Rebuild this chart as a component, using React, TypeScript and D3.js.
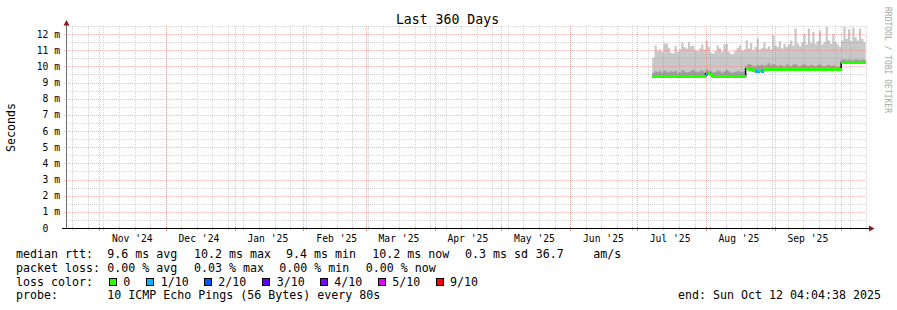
import React from "react";
import * as d3 from "d3";

const W = 897;
const H = 310;

const startTime = new Date(Date.UTC(2024, 9, 17, 4, 4, 38));
const endTime = new Date(Date.UTC(2025, 9, 12, 4, 4, 38));

const yTickValues = [0, 1, 2, 3, 4, 5, 6, 7, 8, 9, 10, 11, 12];
const yTickLabels = ["0", "1 m", "2 m", "3 m", "4 m", "5 m", "6 m", "7 m", "8 m", "9 m", "10 m", "11 m", "12 m"];

const xTickDates = [
  "2024-11-16", "2024-12-16", "2025-01-16", "2025-02-16", "2025-03-16", "2025-04-16",
  "2025-05-16", "2025-06-16", "2025-07-16", "2025-08-16", "2025-09-16",
];
const xTickLabels = ["Nov '24", "Dec '24", "Jan '25", "Feb '25", "Mar '25", "Apr '25", "May '25", "Jun '25", "Jul '25", "Aug '25", "Sep '25"];

// daily series starting 2025-07-08 (values in ms)
const seriesStart = "2025-07-08";
const medianRtt = [
  9.37, 9.37, 9.37, 9.37, 9.37, 9.37, 9.37, 9.37, 9.37, 9.37, 9.37, 9.37,
  9.37, 9.37, 9.37, 9.37, 9.37, 9.37, 9.37, 9.37, 9.37, 9.37, 9.37, 9.37,
  9.52, 9.55, 9.52, 9.38, 9.38, 9.38, 9.38, 9.38, 9.38, 9.38, 9.38, 9.38,
  9.38, 9.38, 9.38, 9.38, 9.38, 9.38,
  9.85, 9.83, 9.78, 9.76, 9.68, 9.66, 9.72, 9.68, 9.79, 9.79, 9.79, 9.79,
  9.79, 9.79, 9.79, 9.79, 9.79, 9.79, 9.79, 9.79, 9.79, 9.79, 9.79, 9.79,
  9.79, 9.79, 9.79, 9.79, 9.79, 9.79, 9.79, 9.79, 9.79, 9.79, 9.79, 9.79,
  9.79, 9.79, 9.79, 9.79, 9.79, 9.79, 9.79,
  10.24, 10.24, 10.24, 10.24, 10.24, 10.24, 10.24, 10.24, 10.24, 10.24, 10.24,
];
const lossTenths = [
  0, 0, 0, 0, 0, 0, 0, 0, 0, 0, 0, 0,
  0, 0, 0, 0, 0, 0, 0, 0, 0, 0, 0, 0,
  1, 0, 0, 0, 0, 0, 0, 0, 0, 0, 0, 0,
  0, 0, 0, 0, 0, 0,
  0, 0, 0, 0, 1, 1, 0, 1, 0, 0, 0, 0,
  0, 0, 0, 0, 0, 0, 0, 0, 0, 0, 0, 0,
  0, 0, 0, 0, 0, 0, 0, 0, 0, 0, 0, 0,
  0, 0, 0, 0, 0, 0, 0,
  0, 0, 0, 0, 0, 0, 0, 0, 0, 0, 0,
];
const smokeMax = [
  10.55, 11.30, 10.95, 11.05, 10.90, 11.42, 11.40, 11.15, 10.85, 10.80, 11.25, 10.90,
  11.05, 11.48, 11.20, 11.10, 11.50, 11.25, 11.30, 11.00, 10.95, 11.10, 11.35, 11.05,
  11.57, 11.20, 10.85, 10.80, 10.95, 11.30, 11.10, 10.90, 11.35, 11.40, 10.90, 10.75,
  10.80, 11.00, 11.15, 11.30, 10.95, 11.05,
  11.62, 11.10, 11.45, 11.00, 11.20, 11.72, 11.05, 11.15, 11.50, 11.10, 11.25, 11.05,
  11.93, 11.30, 11.20, 11.55, 11.10, 11.40, 11.20, 11.35, 11.60, 11.30, 12.34, 11.40,
  11.25, 11.50, 12.00, 11.35, 12.34, 11.45, 12.13, 11.40, 11.55, 12.20, 11.35, 11.50,
  12.45, 11.60, 11.40, 12.00, 11.50, 11.35, 11.20,
  11.60, 12.45, 11.70, 12.30, 11.55, 12.40, 11.80, 11.60, 12.35, 11.70, 11.50,
];
const smokeP9 = [
  9.60, 9.70, 9.65, 9.72, 9.60, 9.75, 9.68, 9.62, 9.70, 9.66, 9.74, 9.60,
  9.64, 9.78, 9.70, 9.62, 9.66, 9.72, 9.80, 9.68, 9.64, 9.70, 9.76, 9.66,
  9.80, 9.75, 9.70, 9.62, 9.66, 9.74, 9.70, 9.60, 9.68, 9.78, 9.70, 9.62,
  9.60, 9.66, 9.72, 9.68, 9.64, 9.70,
  10.05, 10.15, 10.10, 10.02, 10.00, 10.08, 10.05, 10.12, 10.02, 10.10, 10.20, 10.05,
  10.15, 10.08, 10.02, 10.10, 10.05, 10.00, 10.12, 10.06, 10.02, 10.10, 10.15, 10.04,
  10.00, 10.08, 10.12, 10.05, 10.02, 10.10, 10.06, 10.00, 10.08, 10.12, 10.04, 10.00,
  10.06, 10.10, 10.02, 10.05, 10.00, 9.98, 10.02,
  10.40, 10.45, 10.38, 10.42, 10.40, 10.36, 10.44, 10.40, 10.38, 10.42, 10.40,
];

const lossLabels = ["0", "1/10", "2/10", "3/10", "4/10", "5/10", "9/10"];
const lossColors = ["#26ff00", "#00b8ff", "#0059ff", "#5e00ff", "#7e00ff", "#dd00ff", "#ff0000"];

const statsRtt = ["9.6 ms avg", "10.2 ms max", "9.4 ms min", "10.2 ms now", "0.3 ms sd", "36.7", "am/s"];
const statsLoss = ["0.00 % avg", "0.03 % max", "0.00 % min", "0.00 % now"];
const probeText = "10 ICMP Echo Pings (56 Bytes) every 80s";
const endText = "end: Sun Oct 12 04:04:38 2025";
const titleText = "Last 360 Days";
const yAxisTitle = "Seconds";
const watermark = "RRDTOOL / TOBI OETIKER";

// layout (not data)
const rttX = [107.3, 194, 286, 372.3, 465, 535.7, 593.3];
const lossX = [107.3, 194, 279.3, 365.7];
const boxX = [109, 145.7, 203.7, 261.7, 320, 377.7, 435.7];
const boxTextX = [123.3, 160.7, 218.3, 276.7, 334.3, 392.3, 450];

const MONO = "'DejaVu Sans Mono', monospace";
const LEG_FS = 11.63;
const AX_FS = 9.7;

export default function App() {
  const x0 = 66, x1 = 866, yTop = 26, yBot = 228;
  const x = d3.scaleUtc().domain([startTime, endTime]).range([x0, x1]);
  const y = d3.scaleLinear().domain([0, 12.5]).range([yBot, yTop]);

  const parse = d3.utcParse("%Y-%m-%d");
  const day0 = parse(seriesStart) as Date;
  const rows = medianRtt.map((m, i) => ({
    t0: d3.utcDay.offset(day0, i),
    t1: new Date(Math.min(+d3.utcDay.offset(day0, i + 1), +endTime)),
    median: m,
    loss: lossTenths[i],
    max: smokeMax[i],
    p9: smokeP9[i],
  }));
  const last = rows[rows.length - 1];
  const stepRows = [...rows, { ...last, t0: last.t1 }];

  const areaMax = d3.area<any>().x((d) => x(d.t0)).y0((d) => y(d.median)).y1((d) => y(d.max)).curve(d3.curveStepAfter);
  const areaP9 = d3.area<any>().x((d) => x(d.t0)).y0((d) => y(d.median)).y1((d) => y(d.p9)).curve(d3.curveStepAfter);
  const medLine = d3.line<any>().x((d) => x(d.t0)).y((d) => y(d.median)).curve(d3.curveStepAfter);

  const weeks = d3.utcSunday.range(startTime, endTime);
  const months = d3.utcMonth.range(startTime, endTime);
  const minorY = d3.range(1, 26).map((v) => v * 0.5).filter((v) => v % 1 !== 0);
  const majorY = yTickValues.filter((v) => v > 0);

  const majorCol = "rgba(235,80,80,0.38)";
  const minorCol = "rgba(120,120,120,0.3)";
  const cw = AX_FS * 0.602;

  const rp = (v: number) => Math.round(v) + 0.5;

  return (
    <svg width={W} height={H} style={{ position: "absolute", left: 0, top: 0, background: "#fff" }} xmlns="http://www.w3.org/2000/svg">
      <rect x={0} y={0} width={W} height={H} fill="#ffffff" />
      {/* smoke */}
      <path d={areaMax(stepRows) || ""} fill="#c8c8c8" />
      <path d={areaP9(stepRows) || ""} fill="#9e9e9e" />

      {/* grid */}
      <g shapeRendering="crispEdges" strokeWidth={1} strokeDasharray="1,1">
        {minorY.map((v) => (
          <line key={"my" + v} x1={x0} x2={x1} y1={rp(y(v))} y2={rp(y(v))} stroke={minorCol} />
        ))}
        {weeks.map((d) => (
          <line key={"wk" + +d} x1={rp(x(d))} x2={rp(x(d))} y1={yTop} y2={yBot} stroke={minorCol} />
        ))}
        {majorY.map((v) => (
          <line key={"My" + v} x1={x0 - 2} x2={x1} y1={rp(y(v))} y2={rp(y(v))} stroke={majorCol} />
        ))}
        {months.map((d) => (
          <line key={"mo" + +d} x1={rp(x(d))} x2={rp(x(d))} y1={yTop} y2={yBot} stroke={majorCol} />
        ))}
      </g>

      {/* median */}
      <path d={medLine(stepRows) || ""} fill="none" stroke="#111" strokeWidth={1.6} />
      <g shapeRendering="crispEdges">
        {rows.map((r, i) => (
          <rect
            key={"md" + i}
            x={x(r.t0)}
            width={x(r.t1) - x(r.t0) + 0.4}
            y={y(r.median) - 1.5}
            height={3}
            fill={lossColors[r.loss] ?? lossColors[0]}
          />
        ))}
      </g>

      {/* axis ticks */}
      <g shapeRendering="crispEdges">
        {weeks.map((d) => (
          <line key={"wt" + +d} x1={rp(x(d))} x2={rp(x(d))} y1={yBot - 1} y2={yBot + 2} stroke="#bbbbbb" />
        ))}
        {months.map((d) => (
          <line key={"mt" + +d} x1={rp(x(d))} x2={rp(x(d))} y1={yBot - 1} y2={yBot + 3} stroke="#f08080" />
        ))}
        <line x1={x0 + 0.5} x2={x0 + 0.5} y1={yBot} y2={22} stroke="#6e6e6e" />
        <line x1={62} x2={870} y1={yBot + 0.5} y2={yBot + 0.5} stroke="#000" />
      </g>
      <path d={`M${x0 - 2.5},25.5 L${x0 + 3.5},25.5 L${x0 + 0.5},20 Z`} fill="#8b1a1a" />
      <path d={`M869,225.5 L869,231.5 L874.5,228.5 Z`} fill="#8b1a1a" />

      {/* tick labels */}
      <g fontFamily={MONO} fontSize={AX_FS} fill="#000">
        {yTickValues.map((v, i) => (
          <text key={"yl" + v} x={v === 0 ? 60 - 2 * cw : 60} y={y(v) + 3.5} textAnchor="end">
            {yTickLabels[i]}
          </text>
        ))}
        {xTickDates.map((s, i) => (
          <text key={"xl" + s} x={x(parse(s) as Date)} y={241.5} textAnchor="middle">
            {xTickLabels[i]}
          </text>
        ))}
      </g>

      {/* title */}
      <text x={447.5} y={24} textAnchor="middle" fontFamily={MONO} fontSize={13.2} fill="#000">
        {titleText}
      </text>
      <text
        transform={`translate(15,127.5) rotate(-90)`}
        textAnchor="middle"
        fontFamily={MONO}
        fontSize={LEG_FS}
        fill="#000"
      >
        {yAxisTitle}
      </text>
      <text transform={`translate(884.5,7) rotate(90)`} fontFamily={MONO} fontSize={8} fill="#a8a8a8">
        {watermark}
      </text>

      {/* legend */}
      <g fontFamily={MONO} fontSize={LEG_FS} fill="#000" style={{ whiteSpace: "pre" }}>
        <text x={16} y={258.3}>median rtt:</text>
        {statsRtt.map((s, i) => (
          <text key={"sr" + i} x={rttX[i]} y={258.3}>{s}</text>
        ))}
        <text x={16} y={271.9}>packet loss:</text>
        {statsLoss.map((s, i) => (
          <text key={"sl" + i} x={lossX[i]} y={271.9}>{s}</text>
        ))}
        <text x={16} y={285.5}>loss color:</text>
        {lossLabels.map((s, i) => (
          <g key={"lc" + i}>
            <rect x={boxX[i] + 0.5} y={278.5} width={7} height={7} fill={lossColors[i]} stroke="#000" strokeWidth={1} shapeRendering="crispEdges" />
            <text x={boxTextX[i]} y={285.5}>{s}</text>
          </g>
        ))}
        <text x={16} y={299.1}>probe:</text>
        <text x={107.3} y={299.1}>{probeText}</text>
        <text x={881} y={299.1} textAnchor="end">{endText}</text>
      </g>
    </svg>
  );
}
